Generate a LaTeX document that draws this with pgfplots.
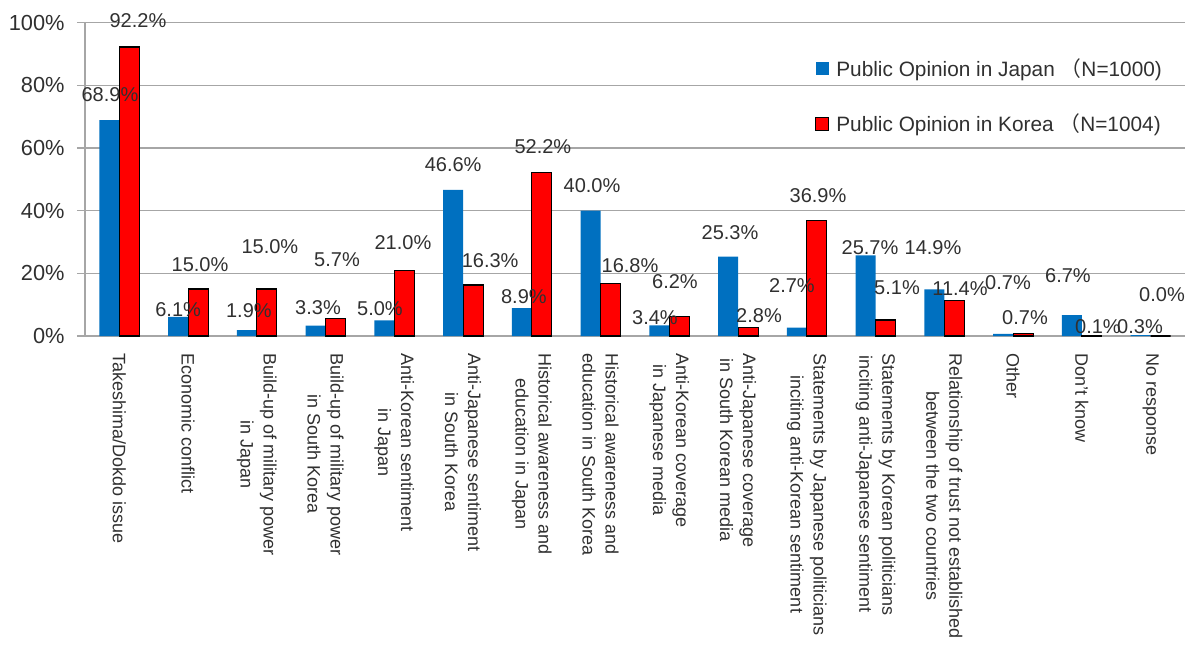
\documentclass[border=0pt]{standalone}
\usepackage{pgfplots}
\pgfplotsset{compat=1.18}
\usepackage{pgfplotstable}
\usepackage{fontspec}
\setmainfont{Liberation Sans}
\newfontfamily\cjk{Noto Sans CJK JP}
\definecolor{jblue}{HTML}{0070C0}
\definecolor{kred}{HTML}{FF0000}
\definecolor{gridgray}{HTML}{A6A6A6}
\definecolor{txt}{HTML}{303030}

\pgfplotstableread{
x J jdx jup K kdx kup
0 68.9 0.6 25.1 92.2 8.6 26.1
1 6.1 0 6.9 15.0 1.9 24
2 1.9 2 19 15.0 3 42
3 3.3 2.4 17.7 5.7 1.4 58
4 5.0 -4.4 11.3 21.0 -1.4 28
5 46.6 0 25 16.3 17 24
6 8.9 2 12 52.2 1 25.5
7 40.0 1.4 24.7 16.8 19.4 17.4
8 3.4 -4.4 7.3 6.2 -4.4 34.6
9 25.3 1.9 23.7 2.8 10.9 11.2
10 2.7 -4.9 41.5 36.9 1.1 24.4
11 25.7 4.4 7.5 5.1 11.4 32
12 14.9 -1.4 41.3 11.4 5.6 11.3
13 0.7 4.9 50.8 0.7 1.9 15.8
14 6.7 -3.9 39 0.1 6.1 8.7
15 0.3 -0.6 8.1 0.0 1.4 41
}\data

\begin{document}
\begin{tikzpicture}
\begin{axis}[
  width=550pt, height=156.7pt, scale only axis,
  xmin=-0.5, xmax=15.5, ymin=0, ymax=100,
  ybar=0pt, bar width=10pt,
  axis x line*=bottom, axis y line*=left,
  axis line style={gridgray, line width=0.75pt},
  ymajorgrids, major grid style={gridgray, line width=0.75pt},
  ytick={0,20,40,60,80,100},
  yticklabels={0\%,20\%,40\%,60\%,80\%,100\%},
  yticklabel style={font=\fontsize{10.9}{12}\selectfont, text=txt, anchor=east, inner sep=0pt, xshift=-6pt},
  tick align=outside, major tick length=4pt, minor tick length=3.5pt,
  tick style={gridgray, line width=0.75pt},
  xtick={0,...,15},
  xtick style={draw=none},
  minor xtick={-0.5,0.5,...,15.5},
  xticklabels={Takeshima/Dokdo issue, Economic conflict,
    {Build-up of military power\\in Japan},
    {Build-up of military power\\in South Korea},
    {Anti-Korean sentiment\\in Japan},
    {Anti-Japanese sentiment\\in South Korea},
    {Historical awareness and\\education in Japan},
    {Historical awareness and\\education in South Korea},
    {Anti-Korean coverage\\in Japanese media},
    {Anti-Japanese coverage\\in South Korean media},
    {Statements by Japanese politicians\\inciting anti-Korean sentiment},
    {Statements by Korean politicians\\inciting anti-Japanese sentiment},
    {Relationship of trust not established\\between the two countries},
    Other, Don't know, No response},
  xticklabel style={yshift=-4.5pt, rotate=-90, anchor=west, align=center, inner sep=0pt,
    font=\fontsize{9}{11.5}\selectfont, text=txt},
  /pgf/number format/assume math mode=true,
  nodes near coords={\pgfmathprintnumber[fixed,fixed zerofill,precision=1]{\pgfplotspointmeta}\%},
  nodes near coords align={center},
  legend style={at={(rel axis cs:0.6636,0.887)}, anchor=north west, draw=none, fill=none,
    font=\fontsize{10.4}{12}\selectfont, text=txt, row sep=17pt, inner sep=0pt,
    nodes={inner xsep=3.5pt, inner ysep=0pt}},
  legend cell align=left,
]
\addplot[fill=jblue, draw=none,
  visualization depends on={0.5*\thisrow{jdx} \as \lblx},
  visualization depends on={0.5*\thisrow{jup} \as \lbly},
  every node near coord/.append style={anchor=center, inner sep=0pt, font=\fontsize{10}{12}\selectfont, text=txt, xshift=\lblx pt, yshift=\lbly pt},
  legend image code/.code={\fill[jblue] (0pt,-3.25pt) rectangle (6.5pt,3.25pt);}
] table[x=x, y=J]{\data};
\addlegendentry{Public Opinion in Japan {\cjk （}N=1000)}
\addplot[fill=kred, draw=black, line width=0.6pt,
  visualization depends on={0.5*\thisrow{kdx} \as \lblx},
  visualization depends on={0.5*\thisrow{kup} \as \lbly},
  every node near coord/.append style={anchor=center, inner sep=0pt, font=\fontsize{10}{12}\selectfont, text=txt, xshift=\lblx pt, yshift=\lbly pt},
  legend image code/.code={\draw[fill=kred, draw=black, line width=0.5pt] (0pt,-3.25pt) rectangle (6.5pt,3.25pt);}
] table[x=x, y=K]{\data};
\addlegendentry{Public Opinion in Korea {\cjk （}N=1004)}
\coordinate (o) at (rel axis cs:0,0);
\end{axis}
\pgfresetboundingbox
\path (o) ++(-42.5pt,-159.5pt) rectangle ++(594pt,327.5pt);
\end{tikzpicture}
\end{document}
